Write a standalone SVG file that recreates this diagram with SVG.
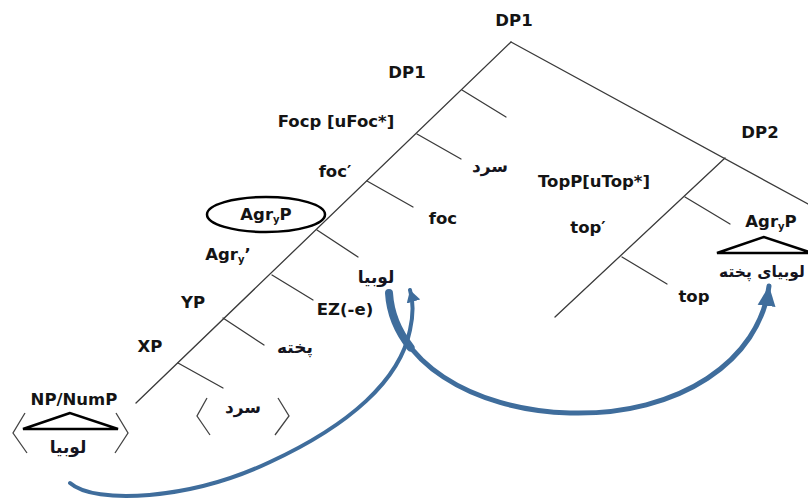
<svg xmlns="http://www.w3.org/2000/svg" width="808" height="501" viewBox="0 0 808 501">
<defs>
<style>
.br{stroke:#3a3a3a;stroke-width:1.3;fill:none;stroke-linecap:round}
.lb{font-family:"DejaVu Sans","Liberation Sans",sans-serif;font-weight:bold;font-size:16.5px;fill:#141414;text-anchor:middle}
.fa{font-family:"DejaVu Sans","Noto Sans",sans-serif;font-weight:bold;font-size:17px;fill:#141420;text-anchor:middle}
.sub{font-size:10px}
.tri{fill:none;stroke:#000;stroke-width:2.5;stroke-linejoin:miter}
.brk{fill:none;stroke:#444;stroke-width:1.3}
.arr{fill:none;stroke:#3f6d9c;stroke-linecap:round}
</style>
<marker id="ah1" markerUnits="userSpaceOnUse" markerWidth="14" markerHeight="14" refX="12" refY="7" orient="auto" viewBox="0 0 14 14">
<path d="M0,0 L12,7 L0,14 Z" fill="#3f6d9c"/>
</marker>
<marker id="ah2" markerUnits="userSpaceOnUse" markerWidth="22" markerHeight="20" refX="20" refY="10" orient="auto" viewBox="0 0 22 20">
<path d="M0,1 L20,10 L0,19 Z" fill="#3f6d9c"/>
</marker>
</defs>
<rect width="808" height="501" fill="#fff"/>

<g id="connectors">
<path class="br" d="M511,42 L136,403"/>
<path class="br" d="M511,42 L808,204"/>
<path class="br" d="M462,90 L506,117"/>
<path class="br" d="M417,134 L461,159"/>
<path class="br" d="M367,181 L413,207"/>
<path class="br" d="M317,230 L358,257"/>
<path class="br" d="M272,275 L313,300"/>
<path class="br" d="M223,318 L264,345"/>
<path class="br" d="M178,363 L223,388"/>
<path class="br" d="M725,158 L555,317"/>
<path class="br" d="M685,197 L730,224"/>
<path class="br" d="M622,257 L667,284"/>
</g>

<g id="node-dp1-top"><text class="lb" x="514" y="26">DP1</text></g>
<g id="node-dp1"><text class="lb" x="407" y="78">DP1</text></g>
<g id="node-focp"><text class="lb" x="336" y="127">Focp [uFoc*]</text></g>
<g id="node-foc-bar"><text class="lb" x="335" y="177">foc′</text></g>
<g id="node-sard1"><text class="fa" x="490" y="172">سرد</text></g>
<g id="node-foc"><text class="lb" x="443" y="224">foc</text></g>
<g id="node-agrp-circled">
<ellipse cx="266" cy="214.5" rx="59" ry="17.5" fill="none" stroke="#000" stroke-width="2.5"/>
<text class="lb" x="266" y="220">Agr<tspan class="sub" dy="3">y</tspan><tspan dy="-3">P</tspan></text>
</g>
<g id="node-agr-bar"><text class="lb" x="228" y="260">Agr<tspan class="sub" dy="3">y</tspan><tspan dy="-3">’</tspan></text></g>
<g id="node-lubia"><text class="fa" x="376" y="283">لوبیا</text></g>
<g id="node-ez"><text class="lb" x="345" y="315">EZ(-e)</text></g>
<g id="node-yp"><text class="lb" x="193" y="308">YP</text></g>
<g id="node-xp"><text class="lb" x="150" y="352">XP</text></g>
<g id="node-pokhte"><text class="fa" x="295" y="353">پخته</text></g>
<g id="node-sard2">
<text class="fa" x="243" y="413">سرد</text>
<path class="brk" d="M207,398 L197,416 L210,435"/>
<path class="brk" d="M278,398 L289,416 L275,435"/>
</g>
<g id="node-np">
<text class="lb" x="74" y="405">NP/NumP</text>
<path class="tri" d="M70,413 L23,429 L118,429 Z"/>
<path class="brk" d="M25,413 L13,433 L27,453"/>
<path class="brk" d="M116,413 L128,433 L115,453"/>
<text class="fa" x="68" y="453">لوبیا</text>
</g>
<g id="node-topp"><text class="lb" x="594" y="187">TopP[uTop*]</text></g>
<g id="node-dp2"><text class="lb" x="760" y="138">DP2</text></g>
<g id="node-top-bar"><text class="lb" x="588" y="233">top′</text></g>
<g id="node-top"><text class="lb" x="694" y="302">top</text></g>
<g id="node-agrp-dp2">
<text class="lb" x="771" y="227">Agr<tspan class="sub" dy="3">y</tspan><tspan dy="-3">P</tspan></text>
<path class="tri" d="M764,237 L717,253 L812,253 Z"/>
<text class="fa" x="762" y="277" style="font-size:15.5px">لوبیای پخته</text>
</g>

<g id="arrows">
<path class="arr" stroke-width="4" marker-end="url(#ah1)" d="M70,483 C95,505 190,500 270,462 C350,425 400,380 410,330 C414,312 413,300 410,290"/>
<path class="arr" stroke-width="5" marker-end="url(#ah2)" d="M389,293 C393,360 470,410 570,413 C680,416 760,360 769,286"/>
<path class="arr" stroke-width="8" pathLength="100" stroke-dasharray="12 200" d="M389,293 C393,360 470,410 570,413 C680,416 760,360 769,286"/>
</g>
</svg>
